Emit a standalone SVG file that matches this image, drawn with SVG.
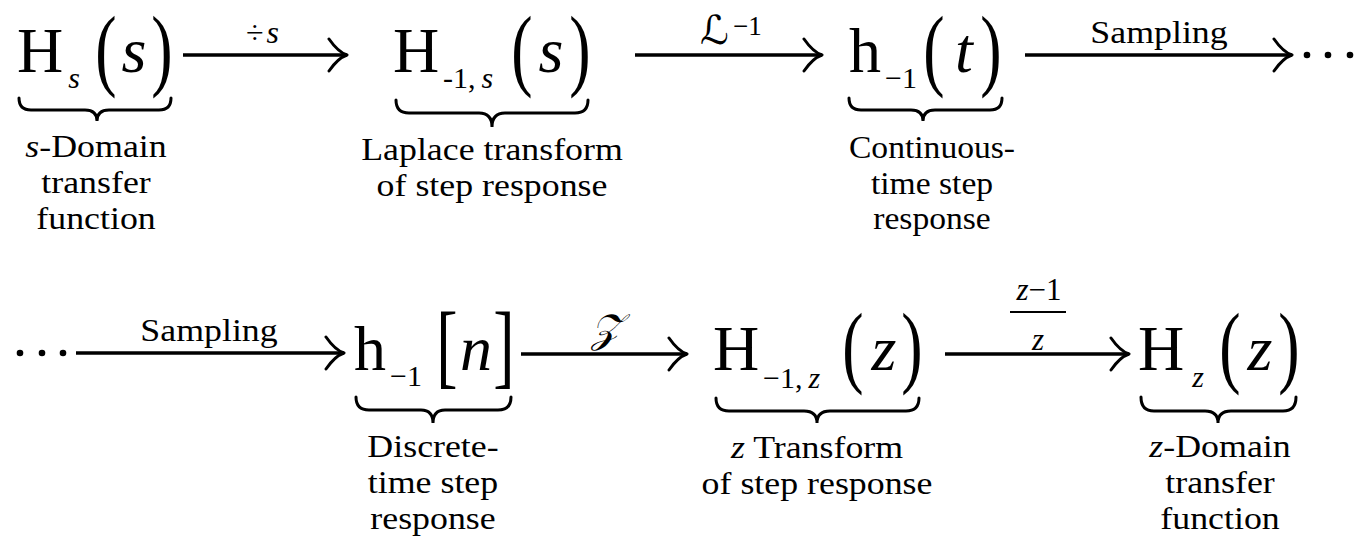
<svg xmlns="http://www.w3.org/2000/svg" width="1363" height="538" viewBox="0 0 1363 538">
<style>
text{font-family:"Liberation Serif","Times New Roman",serif;fill:#000}
.big{font-size:64px}
.par{font-size:64px;text-anchor:middle}
.sub{font-size:30px}
.lab{font-size:32px;text-anchor:middle}
.it{font-style:italic}
.mid{text-anchor:middle}
.scr{font-family:"DejaVu Serif","DejaVu Sans",serif;font-style:italic}
.brace{fill:none;stroke:#000;stroke-width:3;stroke-linecap:round}
.conn line{stroke:#000;stroke-width:3.4}
.dot{fill:#000}
</style>
<defs>
<marker id="ah" viewBox="-22 -18 24 36" refX="0" refY="0" markerWidth="24" markerHeight="36" markerUnits="userSpaceOnUse" orient="auto">
<path d="M-18,-16 Q-9,-3 0,0 Q-9,3 -18,16" fill="none" stroke="#000" stroke-width="3" stroke-linejoin="round" stroke-linecap="round"/>
</marker>
</defs>

<g id="connectors" class="conn">
<line x1="183" y1="55" x2="347" y2="55" marker-end="url(#ah)"/>
<line x1="635" y1="55" x2="822" y2="55" marker-end="url(#ah)"/>
<line x1="1025" y1="55" x2="1292" y2="55" marker-end="url(#ah)"/>
<line x1="76" y1="353" x2="344" y2="353" marker-end="url(#ah)"/>
<line x1="521" y1="354" x2="687" y2="354" marker-end="url(#ah)"/>
<line x1="945" y1="354" x2="1129" y2="354" marker-end="url(#ah)"/>
<circle class="dot" cx="1307" cy="55" r="3.3"/>
<circle class="dot" cx="1328" cy="55" r="3.3"/>
<circle class="dot" cx="1350" cy="55" r="3.3"/>
<circle class="dot" cx="20" cy="353" r="3.3"/>
<circle class="dot" cx="42" cy="353" r="3.3"/>
<circle class="dot" cx="63" cy="353" r="3.3"/>
<text x="246" y="43" style="font-size:32px">÷<tspan class="it" dx="3">s</tspan></text>
<text x="700" y="44" class="scr" style="font-size:40px">ℒ</text>
<text x="733" y="35" style="font-size:27px">−1</text>
<text class="lab" transform="translate(1159,43) scale(1.12,1)">Sampling</text>
<text class="lab" transform="translate(209,341) scale(1.12,1)">Sampling</text>
<text x="606" y="342" class="scr mid" style="font-size:40px">𝒵</text>
<text x="1039" y="300" class="mid" style="font-size:31px"><tspan class="it">z</tspan>−1</text>
<line x1="1010" y1="312" x2="1066" y2="312" style="stroke-width:2"/>
<text x="1038" y="350" class="mid it" style="font-size:31px">z</text>
</g>

<g id="node-Hs">
<text x="40" y="72" class="big mid">H</text>
<text x="74" y="88" class="sub mid it">s</text>
<text class="par" transform="translate(106,79) scale(1,1.41)">(</text>
<text x="134" y="72" class="big mid it">s</text>
<text class="par" transform="translate(162,79) scale(1,1.41)">)</text>
<path class="brace" d="M19,98 Q19,110 31,110 L85,110 Q97,110 97,121 Q97,110 109,110 L159,110 Q171,110 171,98"/>
<text class="lab" transform="translate(96,157) scale(1.12,1)"><tspan class="it">s</tspan>-Domain</text>
<text class="lab" transform="translate(96,193) scale(1.12,1)">transfer</text>
<text class="lab" transform="translate(96,229) scale(1.12,1)">function</text>
</g>

<g id="node-H1s">
<text x="416" y="72" class="big mid">H</text>
<text x="443" y="88" class="sub">-1,<tspan class="it" dx="6">s</tspan></text>
<text class="par" transform="translate(522,79) scale(1,1.41)">(</text>
<text x="551" y="72" class="big mid it">s</text>
<text class="par" transform="translate(580,79) scale(1,1.41)">)</text>
<path class="brace" d="M396,100 Q396,113 409,113 L479,113 Q492,113 492,127 Q492,113 505,113 L575,113 Q588,113 588,100"/>
<text class="lab" transform="translate(492,160) scale(1.12,1)">Laplace transform</text>
<text class="lab" transform="translate(492,196) scale(1.12,1)">of step response</text>
</g>

<g id="node-h1t">
<text x="865" y="72" class="big mid">h</text>
<text x="885" y="88" class="sub">−1</text>
<text class="par" transform="translate(934,79) scale(1,1.41)">(</text>
<text x="964" y="72" class="big mid it">t</text>
<text class="par" transform="translate(991,79) scale(1,1.41)">)</text>
<path class="brace" d="M849,98 Q849,110 861,110 L911,110 Q923,110 923,121 Q923,110 935,110 L990,110 Q1002,110 1002,98"/>
<text class="lab" transform="translate(932,158) scale(1.05,1)">Continuous-</text>
<text class="lab" transform="translate(932,194) scale(1.05,1)">time step</text>
<text class="lab" transform="translate(932,229) scale(1.05,1)">response</text>
</g>

<g id="node-h1n">
<text x="370" y="370" class="big mid">h</text>
<text x="390" y="386" class="sub">−1</text>
<text class="par" transform="translate(447,377) scale(1,1.47)">[</text>
<text x="476" y="370" class="big mid it">n</text>
<text class="par" transform="translate(504,377) scale(1,1.47)">]</text>
<path class="brace" d="M356,397 Q356,410 369,410 L421,410 Q433,410 433,423 Q433,410 445,410 L498,410 Q511,410 511,397"/>
<text class="lab" transform="translate(433,457) scale(1.12,1)">Discrete-</text>
<text class="lab" transform="translate(433,493) scale(1.12,1)">time step</text>
<text class="lab" transform="translate(433,529) scale(1.12,1)">response</text>
</g>

<g id="node-H1z">
<text x="736" y="370" class="big mid">H</text>
<text x="763" y="388" class="sub">−1,<tspan class="it" dx="6">z</tspan></text>
<text class="par" transform="translate(853,376) scale(1,1.41)">(</text>
<text x="884" y="370" class="big mid it">z</text>
<text class="par" transform="translate(912,376) scale(1,1.41)">)</text>
<path class="brace" d="M716,398 Q716,411 729,411 L804,411 Q817,411 817,423 Q817,411 830,411 L906,411 Q919,411 919,398"/>
<text class="lab" transform="translate(817,458) scale(1.12,1)"><tspan class="it">z</tspan> Transform</text>
<text class="lab" transform="translate(817,494) scale(1.12,1)">of step response</text>
</g>

<g id="node-Hz">
<text x="1161" y="370" class="big mid">H</text>
<text x="1198" y="387" class="sub mid it">z</text>
<text class="par" transform="translate(1230,376) scale(1,1.41)">(</text>
<text x="1260" y="370" class="big mid it">z</text>
<text class="par" transform="translate(1289,376) scale(1,1.41)">)</text>
<path class="brace" d="M1141,397 Q1141,411 1154,411 L1205,411 Q1218,411 1218,423 Q1218,411 1231,411 L1283,411 Q1296,411 1296,397"/>
<text class="lab" transform="translate(1220,457) scale(1.12,1)"><tspan class="it">z</tspan>-Domain</text>
<text class="lab" transform="translate(1220,493) scale(1.12,1)">transfer</text>
<text class="lab" transform="translate(1220,529) scale(1.12,1)">function</text>
</g>
</svg>
